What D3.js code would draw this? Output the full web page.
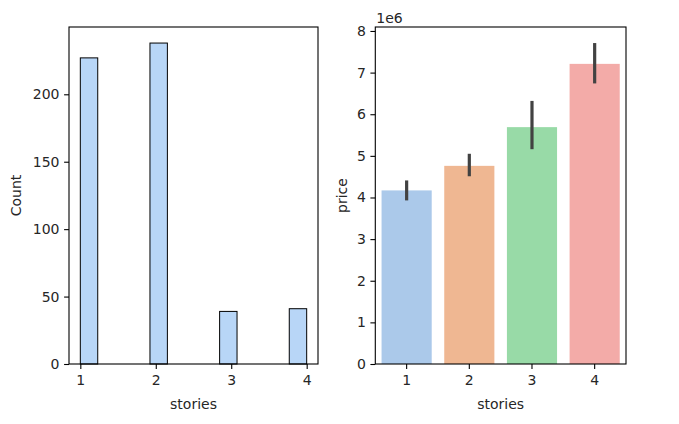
<!DOCTYPE html>
<html>
<head>
<meta charset="utf-8">
<script src="https://cdn.jsdelivr.net/npm/d3@7"></script>
<style>
  html, body { margin: 0; padding: 0; background: #fff; }
  text { font-family: "DejaVu Sans", sans-serif; fill: #262626; }
</style>
</head>
<body>
<svg id="chart" width="679" height="424"></svg>
<script>
// ---- data ----
const stories = [1, 2, 3, 4];
const storyCounts = [227, 238, 39, 41];
const histBins = 13;
const countTicks = [0, 50, 100, 150, 200];

const priceMeans = [4.17e6, 4.76e6, 5.69e6, 7.21e6];
const priceCiLow = [3.93e6, 4.51e6, 5.16e6, 6.74e6];
const priceCiHigh = [4.41e6, 5.05e6, 6.32e6, 7.71e6];
const priceTicks = [0, 1, 2, 3, 4, 5, 6, 7, 8];
const barColors = ["#abc9ea", "#efb792", "#98daa7", "#f3aba8"];
const histColor = "#b8d6f7";

const svg = d3.select("#chart");
svg.append("rect").attr("width", 679).attr("height", 424).attr("fill", "#fff");

const fontSize = 14;
const tickLen = 4.9, tickPad = 4.6, tickPadX = 6.6;

// ---------- Left: histogram ----------
const L = {x0: 69, x1: 318, y0: 27, y1: 364};
const lo = d3.min(stories), hi = d3.max(stories);
const binW = (hi - lo) / histBins;
const xL = d3.scaleLinear().domain([lo - 0.05 * (hi - lo), hi + 0.05 * (hi - lo)]).range([L.x0, L.x1]);
const yL = d3.scaleLinear().domain([0, d3.max(storyCounts) * 1.05]).range([L.y1, L.y0]);

const gL = svg.append("g");
const binIndex = v => Math.min(histBins - 1, Math.floor((v - lo) / binW + 1e-9));
gL.selectAll("rect.bar").data(stories).join("rect")
  .attr("class", "bar")
  .attr("x", d => xL(lo + binIndex(d) * binW))
  .attr("width", d => xL(lo + (binIndex(d) + 1) * binW) - xL(lo + binIndex(d) * binW))
  .attr("y", (d, i) => yL(storyCounts[i]))
  .attr("height", (d, i) => yL(0) - yL(storyCounts[i]))
  .attr("fill", histColor)
  .attr("stroke", "#000")
  .attr("stroke-width", 1);

function styleAxis(g) {
  g.select(".domain").remove();
  g.selectAll(".tick line").attr("stroke", "#000").attr("stroke-width", 1.1);
  g.selectAll(".tick text").attr("font-size", fontSize).attr("font-family", "DejaVu Sans").attr("fill", "#262626");
}

gL.append("g").attr("transform", `translate(0,${L.y1})`)
  .call(d3.axisBottom(xL).tickValues(stories).tickFormat(d3.format("d")).tickSizeInner(tickLen).tickSizeOuter(0).tickPadding(tickPadX))
  .call(styleAxis);
gL.append("g").attr("transform", `translate(${L.x0},0)`)
  .call(d3.axisLeft(yL).tickValues(countTicks).tickFormat(d3.format("d")).tickSizeInner(tickLen).tickSizeOuter(0).tickPadding(tickPad))
  .call(styleAxis);
gL.append("rect").attr("x", L.x0).attr("y", L.y0).attr("width", L.x1 - L.x0).attr("height", L.y1 - L.y0)
  .attr("fill", "none").attr("stroke", "#000").attr("stroke-width", 1.1);

gL.append("text").attr("x", (L.x0 + L.x1) / 2).attr("y", 409).attr("text-anchor", "middle")
  .attr("font-size", fontSize).text("stories");
gL.append("text").attr("transform", `translate(20.5,${(L.y0 + L.y1) / 2}) rotate(-90)`).attr("text-anchor", "middle")
  .attr("font-size", fontSize).text("Count");

// ---------- Right: bar plot ----------
const R = {x0: 375.3, x1: 626, y0: 27, y1: 364};
const xR = d3.scaleBand().domain(stories).range([R.x0, R.x1]).paddingInner(0.2).paddingOuter(0.1);
const yR = d3.scaleLinear().domain([0, d3.max(priceCiHigh) * 1.05]).range([R.y1, R.y0]);

const gR = svg.append("g");
gR.selectAll("rect.bar").data(stories).join("rect")
  .attr("class", "bar")
  .attr("x", d => xR(d))
  .attr("width", xR.bandwidth())
  .attr("y", (d, i) => yR(priceMeans[i]))
  .attr("height", (d, i) => yR(0) - yR(priceMeans[i]))
  .attr("fill", (d, i) => barColors[i]);
gR.selectAll("line.err").data(stories).join("line")
  .attr("class", "err")
  .attr("x1", d => xR(d) + xR.bandwidth() / 2)
  .attr("x2", d => xR(d) + xR.bandwidth() / 2)
  .attr("y1", (d, i) => yR(priceCiLow[i]))
  .attr("y2", (d, i) => yR(priceCiHigh[i]))
  .attr("stroke", "#424242").attr("stroke-width", 3.2);

gR.append("g").attr("transform", `translate(0,${R.y1})`)
  .call(d3.axisBottom(xR).tickFormat(d3.format("d")).tickSizeInner(tickLen).tickSizeOuter(0).tickPadding(tickPadX))
  .call(styleAxis);
gR.append("g").attr("transform", `translate(${R.x0},0)`)
  .call(d3.axisLeft(yR).tickValues(priceTicks.map(t => t * 1e6)).tickFormat(d => d3.format("d")(d / 1e6)).tickSizeInner(tickLen).tickSizeOuter(0).tickPadding(tickPad))
  .call(styleAxis);
gR.append("rect").attr("x", R.x0).attr("y", R.y0).attr("width", R.x1 - R.x0).attr("height", R.y1 - R.y0)
  .attr("fill", "none").attr("stroke", "#000").attr("stroke-width", 1.1);

gR.append("text").attr("x", R.x0 + 1).attr("y", 23).attr("font-size", fontSize).text("1e6");
gR.append("text").attr("x", (R.x0 + R.x1) / 2).attr("y", 409).attr("text-anchor", "middle")
  .attr("font-size", fontSize).text("stories");
gR.append("text").attr("transform", `translate(347,${(R.y0 + R.y1) / 2}) rotate(-90)`).attr("text-anchor", "middle")
  .attr("font-size", fontSize).text("price");
</script>
</body>
</html>
